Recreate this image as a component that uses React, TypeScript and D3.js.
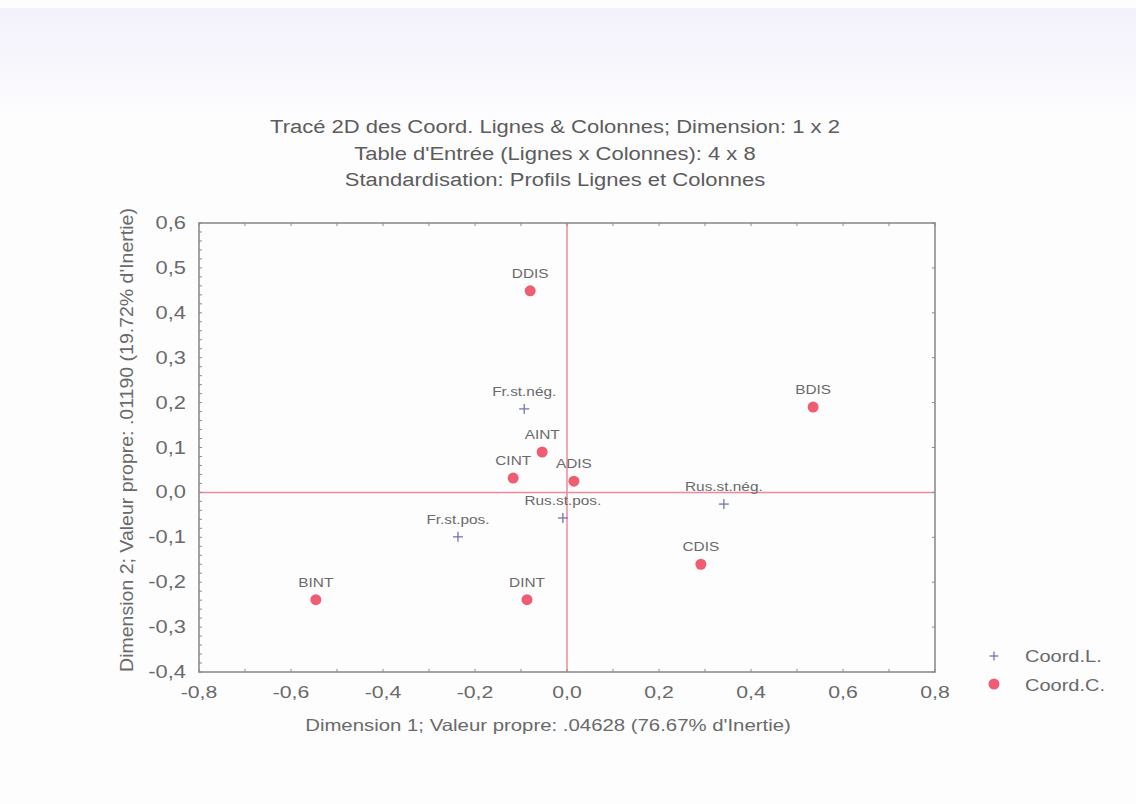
import * as d3 from "d3";

// row points (Coord.L.)
const rowLabels = ["Fr.st.nég.", "Fr.st.pos.", "Rus.st.nég.", "Rus.st.pos."];
const rowX = [-0.093, -0.237, 0.341, -0.009];
const rowY = [0.186, -0.099, -0.026, -0.057];

// column points (Coord.C.)
const colLabels = ["AINT", "BINT", "CINT", "DINT", "ADIS", "BDIS", "CDIS", "DDIS"];
const colX = [-0.054, -0.546, -0.117, -0.087, 0.015, 0.535, 0.291, -0.08];
const colY = [0.09, -0.239, 0.032, -0.239, 0.025, 0.19, -0.16, 0.449];

const xTicks = [-0.8, -0.6, -0.4, -0.2, 0, 0.2, 0.4, 0.6, 0.8];
const yTicks = [-0.4, -0.3, -0.2, -0.1, 0, 0.1, 0.2, 0.3, 0.4, 0.5, 0.6];

const titleLines = [
  "Tracé 2D des Coord. Lignes & Colonnes; Dimension: 1 x 2",
  "Table d'Entrée (Lignes x Colonnes): 4 x 8",
  "Standardisation: Profils Lignes et Colonnes",
];
const xTitle = "Dimension 1; Valeur propre: .04628 (76.67% d'Inertie)";
const yTitle = "Dimension 2; Valeur propre: .01190 (19.72% d'Inertie)";
const legendItems = ["Coord.L.", "Coord.C."];

const W = 1136;
const H = 804;
const FONT = "'Liberation Sans', Arial, sans-serif";
const SX = 1.25; // the scan is a bit wide
const GREY = "#6a6a6a";
const FRAME = "#8c8c8c";
const PINK = "#f08a98";
const RED = "#ef5d72";
const BLUE = "#7474b4";

const x = d3.scaleLinear().domain([-0.8, 0.8]).range([199, 935]);
const y = d3.scaleLinear().domain([-0.4, 0.6]).range([672, 223]);

const fmt = (v: number) => d3.format(".1f")(v).replace(".", ",").replace("−", "-");

function T({
  x: tx,
  y: ty,
  size,
  anchor = "middle",
  fill = GREY,
  children,
}: {
  x: number;
  y: number;
  size: number;
  anchor?: "start" | "middle" | "end";
  fill?: string;
  children: string;
}) {
  return (
    <text
      transform={`translate(${tx},${ty}) scale(${SX},1)`}
      fontSize={size}
      textAnchor={anchor}
      fill={fill}
      fontFamily={FONT}
    >
      {children}
    </text>
  );
}

function Cross({ cx, cy, r = 5 }: { cx: number; cy: number; r?: number }) {
  return (
    <g stroke={BLUE} strokeWidth={1.3}>
      <line x1={cx - r} x2={cx + r} y1={cy} y2={cy} />
      <line x1={cx} x2={cx} y1={cy - r} y2={cy + r} />
    </g>
  );
}

export default function App() {
  const [x0, x1] = x.range();
  const [y0, y1] = y.range();
  const yMinor = d3.range(-0.4, 0.6001, 0.02);
  const xMinor = d3.range(-0.8, 0.8001, 0.1);
  const yMinorR = d3.range(-0.4, 0.6001, 0.1);

  return (
    <svg
      width={W}
      height={H}
      style={{ position: "absolute", left: 0, top: 0, display: "block" }}
    >
      <defs>
        <linearGradient id="scan" x1="0" y1="0" x2="0" y2="1">
          <stop offset="0" stopColor="#f3f1fb" />
          <stop offset="1" stopColor="#fdfcfe" />
        </linearGradient>
      </defs>
      <rect width={W} height={H} fill="#fdfdfe" />
      <rect y={8} width={W} height={110} fill="url(#scan)" />

      {/* title */}
      {titleLines.map((t, i) => (
        <T key={t} x={555} y={133 + i * 26.5} size={17.6} fill="#5c5c5c">
          {t}
        </T>
      ))}

      {/* reference lines at 0 */}
      <line x1={x0} x2={x1} y1={y(0)} y2={y(0)} stroke={PINK} strokeWidth={1.5} />
      <line x1={x(0)} x2={x(0)} y1={y0} y2={y1} stroke={PINK} strokeWidth={1.5} />

      {/* frame */}
      <rect
        x={x0}
        y={y1}
        width={x1 - x0}
        height={y0 - y1}
        fill="none"
        stroke={FRAME}
        strokeWidth={1.6}
      />
      <g stroke={FRAME} strokeWidth={1}>
        {yMinor.map((v) => (
          <line key={`l${v}`} x1={x0} x2={x0 + 3} y1={y(v)} y2={y(v)} />
        ))}
        {yMinorR.map((v) => (
          <line key={`r${v}`} x1={x1 - 3} x2={x1} y1={y(v)} y2={y(v)} />
        ))}
        {xMinor.map((v) => (
          <g key={`x${v}`}>
            <line x1={x(v)} x2={x(v)} y1={y0} y2={y0 - 3} />
            <line x1={x(v)} x2={x(v)} y1={y1} y2={y1 + 3} />
          </g>
        ))}
      </g>

      {/* tick labels */}
      {xTicks.map((v) => (
        <T key={v} x={x(v)} y={698} size={17}>
          {fmt(v)}
        </T>
      ))}
      {yTicks.map((v) => (
        <T key={v} x={186} y={y(v) + 6} size={17.5} anchor="end">
          {fmt(v)}
        </T>
      ))}

      {/* axis titles */}
      <T x={548} y={731} size={16.3}>
        {xTitle}
      </T>
      <text
        transform={`translate(133,440) rotate(-90) scale(1.22,1.15)`}
        fontSize={16}
        textAnchor="middle"
        fill={GREY}
        fontFamily={FONT}
      >
        {yTitle}
      </text>

      {/* row points */}
      {rowLabels.map((lab, i) => (
        <g key={lab}>
          <Cross cx={x(rowX[i])} cy={y(rowY[i])} />
          <T x={x(rowX[i])} y={y(rowY[i]) - 13} size={12.3}>
            {lab}
          </T>
        </g>
      ))}

      {/* column points */}
      {colLabels.map((lab, i) => (
        <g key={lab}>
          <circle cx={x(colX[i])} cy={y(colY[i])} r={5.5} fill={RED} />
          <T x={x(colX[i])} y={y(colY[i]) - 13} size={12.3}>
            {lab}
          </T>
        </g>
      ))}

      {/* legend */}
      {legendItems.map((lab, i) => (
        <g key={lab}>
          {i === 0 ? (
            <Cross cx={994} cy={656} r={4.5} />
          ) : (
            <circle cx={994} cy={684} r={5.5} fill={RED} />
          )}
          <T x={1025} y={662 + i * 29} size={16} anchor="start">
            {lab}
          </T>
        </g>
      ))}
    </svg>
  );
}
